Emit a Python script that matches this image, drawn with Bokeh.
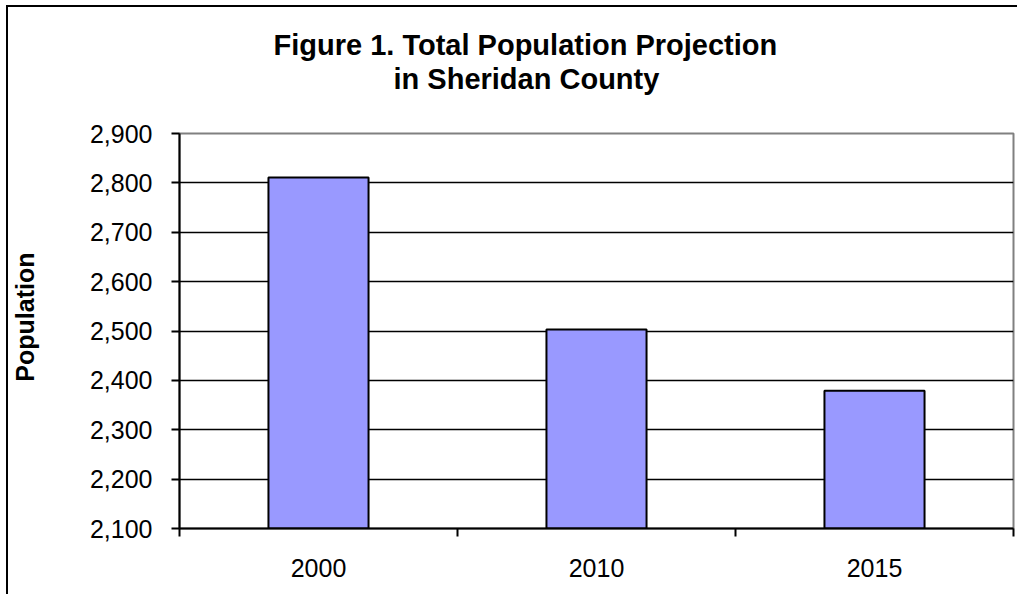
from bokeh.plotting import figure
from bokeh.models import FixedTicker, SingleIntervalTicker, NumeralTickFormatter, Title
from bokeh.embed import file_html
from bokeh.resources import INLINE

# ---- data ----
years = ["2000", "2010", "2015"]
population = [2811, 2503, 2379]
y_start, y_end = 2100, 2900
title_lines = ["Figure 1. Total Population Projection", "in Sheridan County"]
y_label = "Population"

FONT = "Liberation Sans"
xs = [i + 0.5 for i in range(len(years))]

p = figure(width=1017, height=594, x_range=(0, len(years)), y_range=(y_start, y_end),
           output_backend="svg", toolbar_location=None, title=None,
           min_border_left=179, min_border_right=4, min_border_top=133, min_border_bottom=66)
p.border_fill_color = None
p.background_fill_color = "white"
p.styles = {"background": "linear-gradient(#000,#000) 6px 5px / 2px 100% no-repeat, "
                          "linear-gradient(#000,#000) 6px 5px / 100% 2px no-repeat, #fff"}

p.vbar(x=xs, top=population, bottom=y_start, width=0.36,
       fill_color="#9999FF", line_color="black", line_width=2)

# grid / frame
p.xgrid.visible = False
p.ygrid.grid_line_color = "black"
p.ygrid.grid_line_width = 1.5
p.ygrid.ticker = SingleIntervalTicker(interval=100)
p.outline_line_color = "#808080"
p.outline_line_width = 2

# x axis
p.xaxis.ticker = FixedTicker(ticks=xs, minor_ticks=list(range(len(years) + 1)))
p.xaxis.major_label_overrides = {x: y for x, y in zip(xs, years)}
p.xaxis.major_tick_line_color = None
p.xaxis.minor_tick_in = 0
p.xaxis.minor_tick_out = 8
p.xaxis.minor_tick_line_width = 2
p.xaxis.axis_line_width = 2
p.xaxis.axis_line_color = "black"
p.xaxis.major_label_text_font = FONT
p.xaxis.major_label_text_font_size = "25px"
p.xaxis.major_label_text_color = "black"
p.xaxis.major_label_standoff = 22

# y axis
p.yaxis.ticker = SingleIntervalTicker(interval=100)
p.yaxis.formatter = NumeralTickFormatter(format="0,0")
p.yaxis.minor_tick_line_color = None
p.yaxis.major_tick_in = 0
p.yaxis.major_tick_out = 8
p.yaxis.major_tick_line_width = 2
p.yaxis.axis_line_width = 2
p.yaxis.axis_line_color = "black"
p.yaxis.major_label_text_font = FONT
p.yaxis.major_label_text_font_size = "25px"
p.yaxis.major_label_text_color = "black"
p.yaxis.major_label_standoff = 19
p.yaxis.axis_label = "\u00a0" * 4 + y_label
p.yaxis.axis_label_text_font = FONT
p.yaxis.axis_label_text_font_style = "bold"
p.yaxis.axis_label_text_font_size = "25px"
p.yaxis.axis_label_text_color = "black"
p.yaxis.axis_label_standoff = 48

# title: spacer first (closest to frame), then line 2, then line 1
p.add_layout(Title(text="\u00a0", text_font_size="33px", standoff=0), "above")
for txt, off in [(title_lines[1], 214), (title_lines[0], 94)]:
    p.add_layout(Title(text=txt, align="left", offset=off, standoff=0,
                       text_font=FONT, text_font_style="bold", text_font_size="29px",
                       text_color="black"), "above")

open("out.html", "w").write(file_html(p, INLINE))
